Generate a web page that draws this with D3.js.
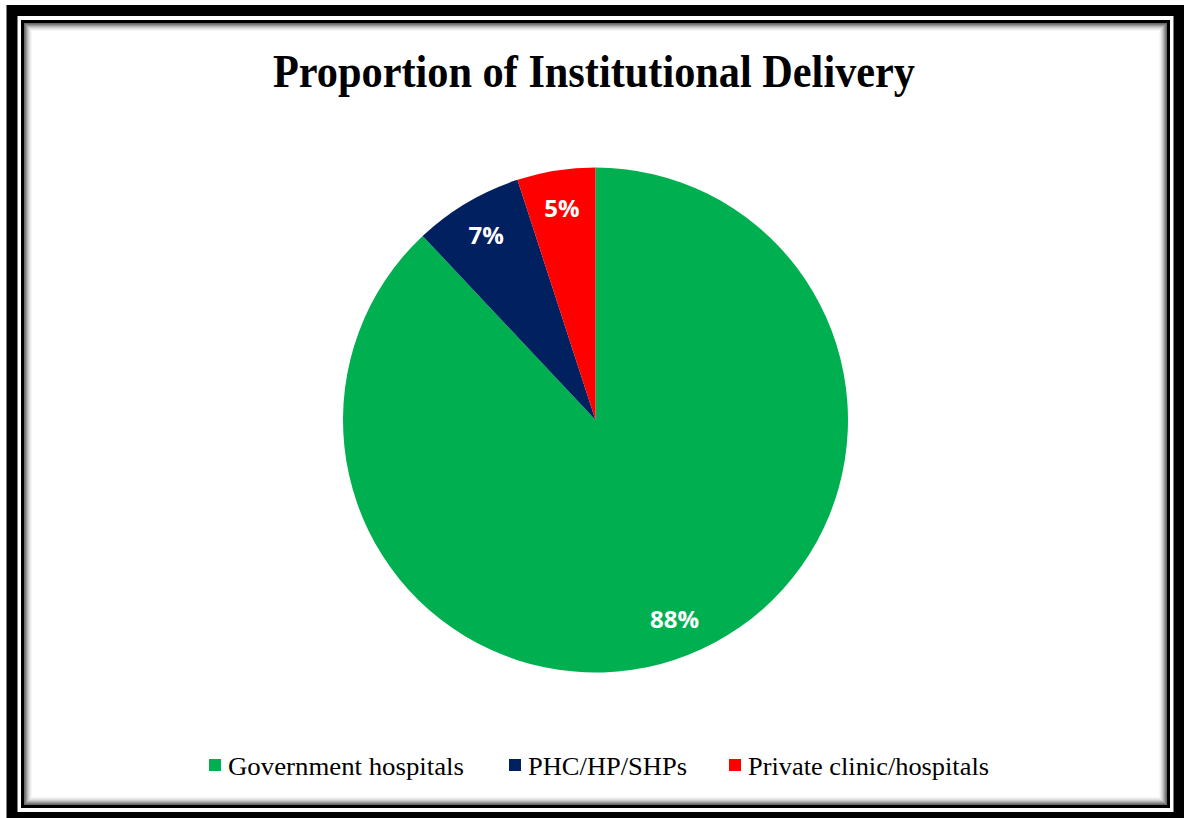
<!DOCTYPE html>
<html>
<head>
<meta charset="utf-8">
<script src="https://cdn.jsdelivr.net/npm/d3@7/dist/d3.min.js"></script>
<style>
  html, body { margin: 0; padding: 0; background: #fff; }
  svg { display: block; }
</style>
</head>
<body>
<svg id="chart" width="1184" height="818"></svg>
<script>
// Delivery place shares (%)
const categories = ["Government hospitals", "PHC/HP/SHPs", "Private clinic/hospitals"];
const shares = [88, 7, 5];
const sliceColors = ["#00B050", "#002060", "#FF0000"];
const chartTitle = "Proportion of Institutional Delivery";

const W = 1184, H = 818;
const svg = d3.select("#chart");

// ---- frame: heavy outer rule, thin inner rule, soft inner shade ----
const frame = svg.append("g");
frame.append("rect").attr("x", 12).attr("y", 10.5).attr("width", 1167).attr("height", 807)
  .attr("fill", "none").attr("stroke", "#000").attr("stroke-width", 11);
frame.append("rect").attr("x", 22.5).attr("y", 21.5).attr("width", 1146).attr("height", 785)
  .attr("fill", "none").attr("stroke", "#000").attr("stroke-width", 3);
const shade = ["#6a6a6a", "#7e7e7e", "#9a9a9a", "#b4b4b4", "#cccccc", "#dedede", "#ececec", "#f6f6f6"];
shade.forEach((c, i) => {
  frame.append("rect")
    .attr("x", 24.5 + i).attr("y", 23.5 + i)
    .attr("width", 1142 - 2 * i).attr("height", 781 - 2 * i)
    .attr("fill", "none").attr("stroke", c).attr("stroke-width", 1);
});

// ---- title ----
svg.append("text")
  .attr("x", 594).attr("y", 87)
  .attr("text-anchor", "middle")
  .attr("font-family", "'Liberation Serif', 'Times New Roman', serif")
  .attr("font-weight", "bold")
  .attr("font-size", 47)
  .attr("textLength", 642)
  .attr("lengthAdjust", "spacingAndGlyphs")
  .attr("fill", "#000")
  .text(chartTitle);

// ---- pie ----
const cx = 595.5, cy = 420, R = 252.5;
const pie = d3.pie().sort(null).value(d => d)(shares);
const arc = d3.arc().innerRadius(0).outerRadius(R);
const labelArc = d3.arc().innerRadius(R * 0.85).outerRadius(R * 0.85);

const g = svg.append("g").attr("transform", `translate(${cx},${cy})`);
g.selectAll("path.slice").data(pie).join("path")
  .attr("class", "slice")
  .attr("d", arc)
  .attr("fill", (d, i) => sliceColors[i]);

g.selectAll("text.pct").data(pie).join("text")
  .attr("class", "pct")
  .attr("transform", d => `translate(${labelArc.centroid(d)})`)
  .attr("text-anchor", "middle")
  .attr("dy", "0.36em")
  .attr("font-family", "'Open Sans', 'Noto Sans', sans-serif")
  .attr("font-weight", "bold")
  .attr("font-size", 24)
  .attr("fill", "#fff")
  .text(d => d.data + "%");

// ---- legend ----
const legendX = [209, 509, 729];
const legendW = [236, 159, 241];
const legend = svg.append("g");
categories.forEach((name, i) => {
  legend.append("rect")
    .attr("x", legendX[i]).attr("y", 759)
    .attr("width", 12).attr("height", 12)
    .attr("fill", sliceColors[i]);
  legend.append("text")
    .attr("x", legendX[i] + 19).attr("y", 775)
    .attr("font-family", "'Liberation Serif', 'Times New Roman', serif")
    .attr("font-size", 25)
    .attr("textLength", legendW[i])
    .attr("lengthAdjust", "spacingAndGlyphs")
    .attr("fill", "#000")
    .text(name);
});
</script>
</body>
</html>
